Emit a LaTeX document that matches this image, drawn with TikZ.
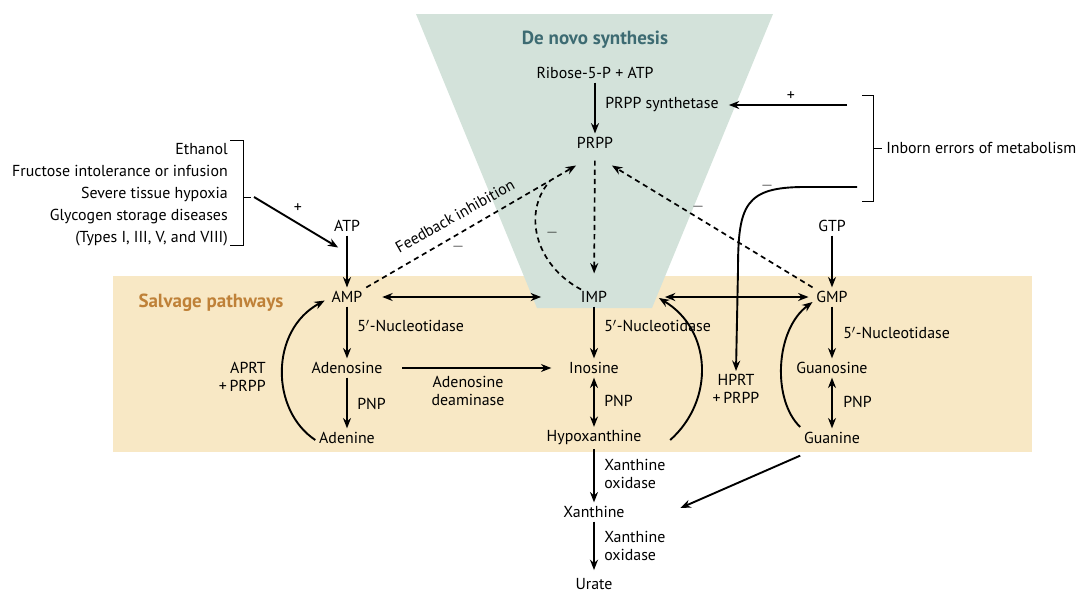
\documentclass[tikz,border=0pt]{standalone}
\usepackage{fontspec}
\setmainfont{PT Sans}
\usetikzlibrary{arrows.meta,positioning,calc}

\definecolor{denovofill}{HTML}{D3E2DA}
\definecolor{salvagefill}{HTML}{F8E8C5}
\definecolor{denovotext}{HTML}{3D6B72}
\definecolor{salvagetext}{HTML}{BF8138}

\begin{document}
\begin{tikzpicture}[x=0.025cm,y=-0.025cm,
    font=\fontsize{11.3}{13.2}\selectfont,
    met/.style={inner sep=0.9mm},
    enz/.style={anchor=west, inner sep=0pt, align=left},
    sgn/.style={inner sep=0pt},
    arr/.style={line width=1.35pt, -{Stealth[length=2.6mm,width=2mm]}},
    darr/.style={line width=1.35pt, {Stealth[length=2.6mm,width=2mm]}-{Stealth[length=2.6mm,width=2mm]}},
    fb/.style={line width=1.2pt, dash pattern=on 1.3mm off 1mm},
    brack/.style={line width=0.7pt}]

\useasboundingbox (0,0) rectangle (1081,592);

% background regions
\fill[salvagefill] (113,276) rectangle (1032,452);
\fill[denovofill] (416,14) -- (773,14) -- (652,308) -- (537,308) -- cycle;

\node[font=\fontsize{13.5}{16}\selectfont\bfseries, text=denovotext] (denovo) at (595,40) {De novo synthesis};
\node[font=\fontsize{13.5}{16}\selectfont\bfseries, text=salvagetext] (salvage) at (211,303) {Salvage pathways};

% de novo
\node[met] (ribose) at (595,73) {Ribose-5-P + ATP};
\node[met] (PRPP) at (595,143) {PRPP};
\node[enz] (synth) at (605,105) {PRPP synthetase};
\draw[arr] (ribose) -- (PRPP);

% metabolites
\node[met] (ATP) at (347,226) {ATP};
\node[met] (GTP) at (832,226) {GTP};
\node[met] (AMP) at (347,297) {AMP};
\node[met] (IMP) at (594,297) {IMP};
\node[met] (GMP) at (832,297) {GMP};
\node[met] (adenosine) at (347,368) {Adenosine};
\node[met] (inosine) at (594,368) {Inosine};
\node[met] (guanosine) at (832,368) {Guanosine};
\node[met] (adenine) at (347,438) {Adenine};
\node[met] (hypox) at (594,438) {Hypoxanthine};
\node[met] (guanine) at (832,438) {Guanine};
\node[met] (xanthine) at (594,512) {Xanthine};
\node[inner sep=0pt] (urate) at (594,584) {Urate};

% enzymes
\node[enz] (nuclA) at (357,326) {5$'$-Nucleotidase};
\node[enz] (nuclI) at (604,326) {5$'$-Nucleotidase};
\node[enz] (nuclG) at (843,333) {5$'$-Nucleotidase};
\node[enz] (pnpA) at (357,404) {PNP};
\node[enz] (pnpI) at (604,401) {PNP};
\node[enz] (pnpG) at (843,402) {PNP};
\node[align=center, inner sep=0pt] (ada) at (468,391) {Adenosine\\deaminase};
\node[enz] (xoA) at (604,474) {Xanthine\\oxidase};
\node[enz] (xoB) at (604,546) {Xanthine\\oxidase};
\node[align=right, anchor=east, inner sep=0pt] (aprt) at (266,377) {APRT\\+\,PRPP};
\node[align=center, inner sep=2pt] (hprt) at (736,389) {HPRT\\+\,PRPP};

% salvage arrows
\draw[arr] (ATP) -- (AMP);
\draw[arr] (GTP) -- (GMP);
\draw[darr, shorten <=4mm, shorten >=9mm] (AMP) -- (IMP);
\draw[darr, shorten <=13.5mm, shorten >=1mm] (IMP) -- (GMP);
\draw[arr] (AMP) -- (adenosine);
\draw[arr] (adenosine) -- (adenine);
\draw[arr] (IMP) -- (inosine);
\draw[darr] (inosine) -- (hypox);
\draw[arr] (GMP) -- (guanosine);
\draw[darr] (guanosine) -- (guanine);
\draw[arr, shorten <=4mm, shorten >=3.5mm] (adenosine) -- (inosine);
\draw[arr] (hypox) -- (xanthine);
\draw[arr, shorten >=2mm] (xanthine) -- (urate);
\draw[arr] ([shift={(0,8)}]guanine.south west) -- ([shift={(52,-4)}]xanthine.east);

% phosphoribosyl transfer
\draw[arr] ([shift={(0,2)}]adenine.west) .. controls (270,410) and (270,330) .. ([shift={(-3,-6)}]AMP.south west);
\draw[arr] ([shift={(25,2)}]hypox.east) .. controls (715,400) and (712,330) .. ([shift={(48,1)}]IMP.east);
\draw[arr] ([shift={(0,-11)}]guanine.west) .. controls (772,400) and (775,330) .. ([shift={(0,5)}]GMP.west);

% feedback
\coordinate (fbmerge) at (550,181);
\draw[fb, -{Stealth[length=2.6mm,width=2mm]}] (AMP.north east) -- ([shift={(3,13)}]PRPP.south west);
\draw[fb] ([shift={(4,2)}]IMP.north west) .. controls (535,265) and (522,212) .. (fbmerge);
\draw[fb, -{Stealth[length=2.6mm,width=2mm]}, shorten <=2mm, shorten >=3.5mm] (PRPP) -- (IMP);
\draw[fb, -{Stealth[length=2.6mm,width=2mm]}] (GMP.north west) -- ([shift={(-5,13)}]PRPP.south east);
\node[rotate=29.5, inner sep=0pt] (fblabel) at (455,216) {Feedback inhibition};
\node[sgn] (mAMP) at (458,247) {$-$};
\node[sgn] (mIMP) at (552,233) {$-$};
\node[sgn] (mGMP) at (698,207) {$-$};

% causes of overproduction
\node[align=right, anchor=east, inner sep=0pt, font=\fontsize{11.3}{15.6}\selectfont] (causes) at (228,195)
  {Ethanol\\Fructose intolerance or infusion\\Severe tissue hypoxia\\Glycogen storage diseases\\(Types I, III, V, and VIII)};
\draw[brack] (230,140) -- (243,140) -- (243,245) -- (230,245);
\draw[brack] (243,197) -- (251,197);
\coordinate (causesend) at (254,197);
\draw[arr] (causesend) -- ([shift={(8,12)}]ATP.south west);
\node[sgn] (pATP) at (298,208) {+};

% inborn errors
\draw[brack] (862,95) -- (873,95) -- (873,201) -- (862,201);
\draw[brack] (873,148) -- (882,148);
\node[anchor=west, inner sep=0pt] (inborn) at (886,148) {Inborn errors of metabolism};
\coordinate (inbornA) at (847,105);
\coordinate (inbornB) at (857,187);
\draw[arr, shorten >=2.5mm] (inbornA) -- (synth.east |- inbornA);
\node[sgn] (pSynth) at (791,96) {+};
\draw[arr] (inbornB) -- (805,187) .. controls (745,187) and (738,205) .. (738,270) -- (hprt.north);
\node[sgn] (mHPRT) at (767,186) {$-$};

\end{tikzpicture}
\end{document}
